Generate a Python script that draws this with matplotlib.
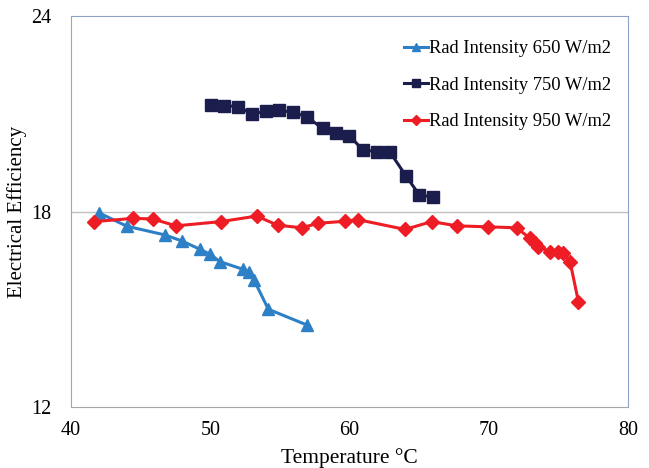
import matplotlib.pyplot as plt

plt.rcParams['font.family'] = ['Liberation Serif', 'DejaVu Serif']

# Rad Intensity 650 W/m2
t_650 = [42.0, 44.0, 46.75, 48.0, 49.26, 49.98, 50.7, 52.33, 52.8, 53.14, 54.17, 56.92]
e_650 = [17.96, 17.55, 17.28, 17.09, 16.84, 16.69, 16.46, 16.23, 16.15, 15.90, 15.0, 14.52]

# Rad Intensity 750 W/m2
t_750 = [50.03, 50.99, 52.02, 52.98, 54.0, 54.96, 55.97, 56.92, 58.07, 59.0, 59.99,
         60.95, 61.95, 62.91, 64.06, 65.01, 65.98]
e_750 = [21.27, 21.25, 21.22, 20.99, 21.08, 21.11, 21.04, 20.91, 20.55, 20.42, 20.33,
         19.89, 19.84, 19.82, 19.09, 18.51, 18.44]

# Rad Intensity 950 W/m2
t_950 = [41.68, 44.48, 45.87, 47.54, 50.77, 53.33, 54.84, 56.57, 57.76, 59.7, 60.6,
         63.99, 65.9, 67.7, 69.92, 72.0, 72.96, 73.32, 73.56, 74.4, 75.0, 75.36, 75.84, 76.44]
e_950 = [17.69, 17.79, 17.77, 17.56, 17.69, 17.86, 17.58, 17.50, 17.64, 17.70, 17.75,
         17.45, 17.69, 17.56, 17.53, 17.50, 17.18, 17.04, 16.92, 16.77, 16.77, 16.74, 16.46, 15.23]

x_ticks = [40, 50, 60, 70, 80]
y_ticks = [12, 18, 24]

fig, ax = plt.subplots(figsize=(6.49, 4.68), dpi=100)
fig.subplots_adjust(left=71/649, right=628/649, top=1-16/468, bottom=1-407/468)

ax.plot(t_650, e_650, color='#2E80C6', lw=2.2, marker='^', ms=8.5, label='Rad Intensity 650 W/m2')
ax.plot(t_750, e_750, color='#1B1D4D', lw=2.2, marker='s', ms=8.5, label='Rad Intensity 750 W/m2')
ax.plot(t_950, e_950, color='#EE1D25', lw=2.2, marker='D', ms=7, label='Rad Intensity 950 W/m2')

ax.set_xlim(40, 80)
ax.set_ylim(12, 24)
ax.set_xticks(x_ticks)
ax.set_yticks(y_ticks)
ax.tick_params(length=0, labelsize=14.5)
ax.tick_params(axis='y', pad=14)
ax.tick_params(axis='x', pad=10)
ax.axhline(18, color='#BFBFBF', lw=1, zorder=0)

ax.spines['left'].set_color('#A6A6A6')
ax.spines['bottom'].set_color('#A6A6A6')
ax.spines['top'].set_color('#8EA0C8')
ax.spines['right'].set_color('#8EA0C8')

ax.set_xlabel('Temperature °C', fontsize=15.5, labelpad=6)
ax.set_ylabel('Electrical Efficiency', fontsize=15, labelpad=3)

ax.legend(loc='upper right', frameon=False, fontsize=13.3, handlelength=1.35,
          handletextpad=0.05, labelspacing=1.05, markerscale=0.75,
          bbox_to_anchor=(1.0, 0.98))

fig.savefig('out.png', dpi=100)
